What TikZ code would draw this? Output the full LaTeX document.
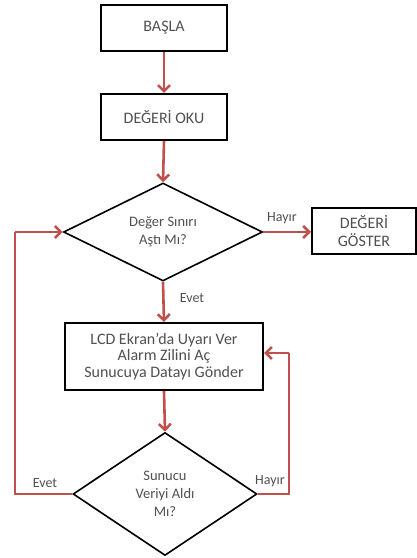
\documentclass[tikz,border=0pt]{standalone}
\usepackage{fontspec}
\setmainfont{Carlito}
\usetikzlibrary{shapes.geometric,arrows.meta}
\definecolor{lred}{HTML}{C0504D}
\definecolor{txt}{HTML}{505050}
\tikzset{
  box/.style={draw=black,line width=2pt,rectangle,inner sep=0pt,text=txt,align=center,font=\fontsize{16}{16.5}\selectfont},
  twobox/.style={box,font=\fontsize{16}{18}\selectfont},
  dia/.style={draw=black,line width=1.6pt,diamond,inner sep=0pt,text=txt,align=center,font=\fontsize{14.5}{18}\selectfont},
  conn/.style={draw=lred,line width=2.6pt,-{Straight Barb[length=6pt,width=12pt]}},
  loopline/.style={draw=lred,line width=2.6pt},
  lbl/.style={text=txt,font=\fontsize{14}{15}\selectfont,inner sep=0pt}
}
\begin{document}
\begin{tikzpicture}[x=1pt,y=1pt]
\useasboundingbox (0,0) rectangle (417,558);
\node[box,minimum width=126pt,minimum height=46pt] (start) at (164,530) {BAŞLA};
\node[box,minimum width=126pt,minimum height=46pt] (read) at (164,441) {DEĞERİ OKU};
\node[dia,minimum width=199pt,minimum height=98pt] (d1) at (163,326) {Değer Sınırı\\Aştı Mı?};
\node[twobox,minimum width=104pt,minimum height=46pt] (show) at (364,327) {DEĞERİ\\GÖSTER};
\node[box,minimum width=198pt,minimum height=67pt] (lcd) at (164,201.5) {LCD Ekran’da Uyarı Ver\\Alarm Zilini Aç\\Sunucuya Datayı Gönder};
\node[dia,minimum width=184pt,minimum height=123pt] (d2) at (165,64) {Sunucu\\Veriyi Aldı\\Mı?};
\draw[conn] (start.south) -- (read.north);
\draw[conn] (read.south) -- (d1.north);
\draw[conn] (d1.east) -- (d1.east -| show.west);
\draw[conn] (d1.south) -- (lcd.north);
\draw[conn] (lcd.south) -- (d2.north);
\coordinate (lx) at (15,64);
\coordinate (ly) at (15,326);
\coordinate (rx) at (289,64);
\coordinate (ry) at (289,205);
\draw[loopline,line join=miter] (d2.west) -- (lx) -- (ly);
\draw[conn] (ly) -- (d1.west);
\draw[loopline] (d2.east) -- (rx) -- (ry);
\draw[conn] (ry) -- (ry -| lcd.east);
\node[lbl] (h1) at (282,340) {Hayır};
\node[lbl] (e1) at (192,260) {Evet};
\node[lbl] (e2) at (45,75) {Evet};
\node[lbl] (h2) at (270,77) {Hayır};
\end{tikzpicture}
\end{document}
